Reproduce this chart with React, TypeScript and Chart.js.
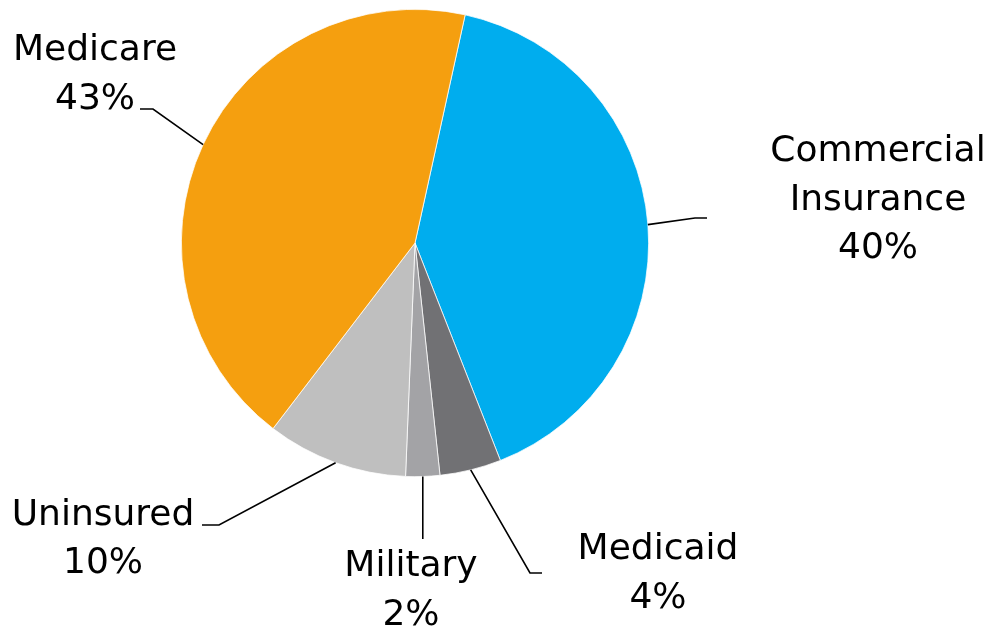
import React, { useEffect, useRef } from "react";
import { Chart, registerables } from "chart.js";

Chart.register(...registerables);

const categories: string[][] = [
  ["Commercial", "Insurance"],
  ["Medicaid"],
  ["Military"],
  ["Uninsured"],
  ["Medicare"],
];
const shares: number[] = [40.6, 4.25, 2.35, 9.75, 43.05];
const shareLabels: string[] = ["40%", "4%", "2%", "10%", "43%"];
const colors: string[] = ["#00ADEE", "#717174", "#A3A3A6", "#BFBFBF", "#F59F0F"];

// Label layout, offsets relative to pie centre (px): elbow point, line end x, text centre, line gap
const labelLayout = [
  { elbow: [280, -25], endX: 292, text: [463, -91], gap: 48.5, vertical: false },
  { elbow: [115, 330], endX: 127, text: [243, 307], gap: 49, vertical: false },
  { elbow: [0, 296], endX: 0, text: [-4, 324], gap: 49, vertical: true },
  { elbow: [-196, 282], endX: -213, text: [-312, 273], gap: 48, vertical: false },
  { elbow: [-262, -134], endX: -275, text: [-320, -192], gap: 49, vertical: false },
];

const labelPlugin = {
  id: "pieLabels",
  afterDatasetsDraw(chart: any) {
    const ctx = chart.ctx;
    const meta = chart.getDatasetMeta(0);
    ctx.save();
    meta.data.forEach((arc: any, i: number) => {
      const { x, y, startAngle, endAngle, outerRadius } = arc.getProps(
        ["x", "y", "startAngle", "endAngle", "outerRadius"],
        true
      );
      const mid = (startAngle + endAngle) / 2;
      const ex = x + Math.cos(mid) * outerRadius;
      const ey = y + Math.sin(mid) * outerRadius;
      const L = labelLayout[i];
      ctx.strokeStyle = "#000";
      ctx.lineWidth = 1.6;
      ctx.beginPath();
      ctx.moveTo(ex, ey);
      if (L.vertical) {
        ctx.lineTo(ex, y + L.elbow[1]);
      } else {
        ctx.lineTo(x + L.elbow[0], y + L.elbow[1]);
        ctx.lineTo(x + L.endX, y + L.elbow[1]);
      }
      ctx.stroke();
      const lines = [...categories[i], shareLabels[i]];
      ctx.fillStyle = "#000";
      ctx.font = '36px "DejaVu Sans"';
      ctx.textAlign = "center";
      ctx.textBaseline = "middle";
      lines.forEach((t, k) => {
        ctx.fillText(t, x + L.text[0], y + L.text[1] + k * L.gap);
      });
    });
    ctx.restore();
  },
};

export default function App() {
  const ref = useRef<HTMLCanvasElement>(null);
  useEffect(() => {
    if (!ref.current) return;
    const chart = new Chart(ref.current, {
      type: "pie",
      data: {
        labels: categories.map((c) => c.join(" ")),
        datasets: [
          {
            data: shares,
            backgroundColor: colors,
            borderColor: "#FFFFFF",
            borderWidth: 0.75,
          },
        ],
      },
      options: {
        responsive: false,
        animation: false,
        rotation: 12.4,
        layout: { padding: { left: 181, right: 341, top: 9, bottom: 154 } },
        plugins: {
          legend: { display: false },
          tooltip: { enabled: false },
          title: { display: false },
        },
      },
      plugins: [labelPlugin],
    });
    return () => chart.destroy();
  }, []);
  return (
    <div style={{ position: "fixed", left: 0, top: 0, width: 990, height: 631, background: "#fff" }}>
      <canvas ref={ref} width={990} height={631} style={{ display: "block" }} />
    </div>
  );
}
